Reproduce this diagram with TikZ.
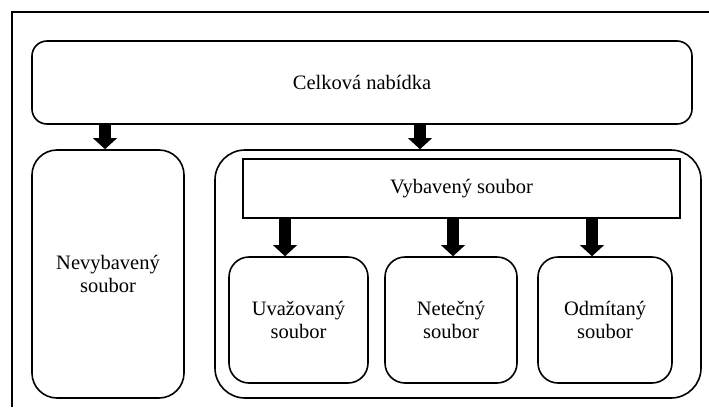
\documentclass[tikz,border=0pt]{standalone}
\usepackage{fontspec}
\setmainfont{Liberation Serif}
\usetikzlibrary{arrows.meta}
\begin{document}
\begin{tikzpicture}[x=1pt,y=-1pt,
  box/.style={draw,line width=1.6pt,inner sep=0pt,align=center,
    font=\fontsize{20.5}{23.5}\selectfont},
  fat/.style={line width=12pt,
    -{Triangle[width=24pt,length=11pt,line width=0pt]}}]
\useasboundingbox (0,0) rectangle (709,407);
% outer frame (top and left edges)
\draw[line width=1.4pt] (12,407) -- (12,12) -- (709,12);

\node[box,rounded corners=15pt,minimum width=660pt,minimum height=83pt]
  (celk) at (362,82.5) {Celková nabídka};
\node[box,rounded corners=25pt,minimum width=152pt,minimum height=248pt]
  (nevyb) at (108,274) {Nevybavený\\soubor};
\node[box,rounded corners=30pt,minimum width=486pt,minimum height=248pt]
  (cont) at (458,274) {};
\node[box,minimum width=437pt,minimum height=59pt]
  (vybav) at (461.5,188.5) {Vybavený soubor};
\node[box,rounded corners=20pt,minimum width=139pt,minimum height=126pt]
  (uvaz) at (298.5,320) {Uvažovaný\\soubor};
\node[box,rounded corners=20pt,minimum width=132pt,minimum height=126pt]
  (net) at (451,320) {Netečný\\soubor};
\node[box,rounded corners=20pt,minimum width=134pt,minimum height=126pt]
  (odm) at (605,320) {Odmítaný\\soubor};

% arrow positions
\coordinate (a1) at (105,0);
\coordinate (a2) at (420,0);
\coordinate (a3) at (285,0);
\coordinate (a4) at (453,0);
\coordinate (a5) at (592,0);

\draw[fat] (celk.south -| a1) -- (nevyb.north -| a1);
\draw[fat] (celk.south -| a2) -- (cont.north -| a2);
\draw[fat] (vybav.south -| a3) -- (uvaz.north -| a3);
\draw[fat] (vybav.south -| a4) -- (net.north -| a4);
\draw[fat] (vybav.south -| a5) -- (odm.north -| a5);
\end{tikzpicture}
\end{document}
